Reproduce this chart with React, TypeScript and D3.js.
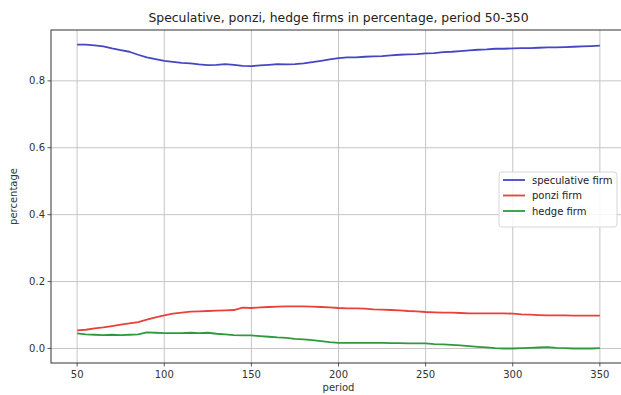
import React from "react";
import * as d3 from "d3";

const periods = [50,55,60,65,70,75,80,85,90,95,100,105,110,115,120,125,130,135,140,145,150,155,160,165,170,175,180,185,190,195,200,205,210,215,220,225,230,235,240,245,250,255,260,265,270,275,280,285,290,295,300,305,310,315,320,325,330,335,340,345,350];

const speculative = [0.908,0.908,0.906,0.903,0.897,0.892,0.887,0.878,0.870,0.865,0.860,0.857,0.854,0.852,0.849,0.847,0.848,0.850,0.848,0.845,0.844,0.846,0.848,0.850,0.849,0.850,0.852,0.856,0.860,0.864,0.868,0.870,0.870,0.872,0.873,0.874,0.876,0.878,0.879,0.880,0.882,0.883,0.886,0.887,0.889,0.891,0.893,0.894,0.896,0.896,0.897,0.898,0.898,0.899,0.900,0.900,0.901,0.902,0.903,0.904,0.905];

const ponzi = [0.054,0.056,0.060,0.063,0.067,0.071,0.075,0.079,0.086,0.093,0.099,0.104,0.107,0.110,0.111,0.112,0.113,0.114,0.115,0.122,0.121,0.123,0.124,0.125,0.126,0.126,0.126,0.125,0.124,0.123,0.121,0.120,0.120,0.119,0.117,0.116,0.115,0.114,0.112,0.111,0.109,0.108,0.107,0.107,0.106,0.105,0.105,0.105,0.105,0.105,0.104,0.102,0.101,0.100,0.099,0.099,0.099,0.098,0.098,0.098,0.098];

const hedge = [0.045,0.042,0.041,0.040,0.041,0.040,0.041,0.042,0.048,0.047,0.046,0.046,0.046,0.047,0.046,0.047,0.044,0.042,0.040,0.039,0.039,0.037,0.035,0.033,0.032,0.029,0.027,0.025,0.022,0.019,0.017,0.017,0.017,0.017,0.017,0.017,0.016,0.016,0.015,0.015,0.015,0.013,0.012,0.011,0.009,0.007,0.005,0.003,0.001,0.000,0.000,0.001,0.002,0.003,0.004,0.002,0.001,0.000,0.000,0.000,0.001];

const xTicks = [50,100,150,200,250,300,350];
const yTicks = [0.0,0.2,0.4,0.6,0.8];

const seriesNames = ["speculative firm","ponzi firm","hedge firm"];
const seriesColors = ["#4646c4","#e8413c","#2e9a3e"];
const seriesData = [speculative, ponzi, hedge];

const title = "Speculative, ponzi, hedge firms in percentage, period 50-350";
const xLabel = "period";
const yLabel = "percentage";

export default function App() {
  const W = 621, H = 395;
  const left = 51, right = 626, top = 30, bottom = 363;
  const x = d3.scaleLinear().domain([35, 365]).range([left, right]);
  const y = d3.scaleLinear().domain([-0.0434, 0.952]).range([bottom, top]);
  const font = "DejaVu Sans, sans-serif";
  const line = (vals: number[]) =>
    d3.line<number>().x((_, i) => x(periods[i])).y((v) => y(v))(vals) || "";

  const lgX = 499, lgY = 172;
  const rowY = [180, 195.5, 211];

  return (
    <svg width={W} height={H} style={{ position: "absolute", left: 0, top: 0, background: "#fff" }} fontFamily={font}>
      <rect x={0} y={0} width={W} height={H} fill="#fff" />
      <text x={(left + right) / 2} y={22} textAnchor="middle" fontSize={12.4} fill="#222">{title}</text>
      {xTicks.map((t) => (
        <g key={"x" + t}>
          <line x1={x(t)} x2={x(t)} y1={top} y2={bottom} stroke="#c8c4c4" strokeWidth={1} />
          <line x1={x(t)} x2={x(t)} y1={bottom} y2={bottom + 3.5} stroke="#333" strokeWidth={0.8} />
          <text x={x(t)} y={bottom + 15} textAnchor="middle" fontSize={10} fill="#333">{t}</text>
        </g>
      ))}
      {yTicks.map((t) => (
        <g key={"y" + t}>
          <line x1={left} x2={right} y1={y(t)} y2={y(t)} stroke="#c8c4c4" strokeWidth={1} />
          <line x1={left - 3.5} x2={left} y1={y(t)} y2={y(t)} stroke="#333" strokeWidth={0.8} />
          <text x={left - 6} y={y(t) + 3.5} textAnchor="end" fontSize={10} fill="#333">{t.toFixed(1)}</text>
        </g>
      ))}
      {seriesData.map((d, i) => (
        <path key={seriesNames[i]} d={line(d)} fill="none" stroke={seriesColors[i]} strokeWidth={1.8} strokeLinejoin="round" />
      ))}
      <rect x={left} y={top} width={right - left} height={bottom - top} fill="none" stroke="#333" strokeWidth={1} />
      <text x={(left + right) / 2} y={391} textAnchor="middle" fontSize={10} fill="#333">{xLabel}</text>
      <text transform={`translate(17,${(top + bottom) / 2}) rotate(-90)`} textAnchor="middle" fontSize={10} fill="#333">{yLabel}</text>
      <rect x={lgX} y={lgY} width={118} height={55} rx={3} fill="#fff" fillOpacity={0.85} stroke="#d6d6d6" strokeWidth={1} />
      {seriesNames.map((n, i) => (
        <g key={"lg" + n}>
          <line x1={503} x2={525} y1={rowY[i]} y2={rowY[i]} stroke={seriesColors[i]} strokeWidth={1.8} />
          <text x={532} y={rowY[i] + 3.5} fontSize={10} fill="#222">{n}</text>
        </g>
      ))}
    </svg>
  );
}
